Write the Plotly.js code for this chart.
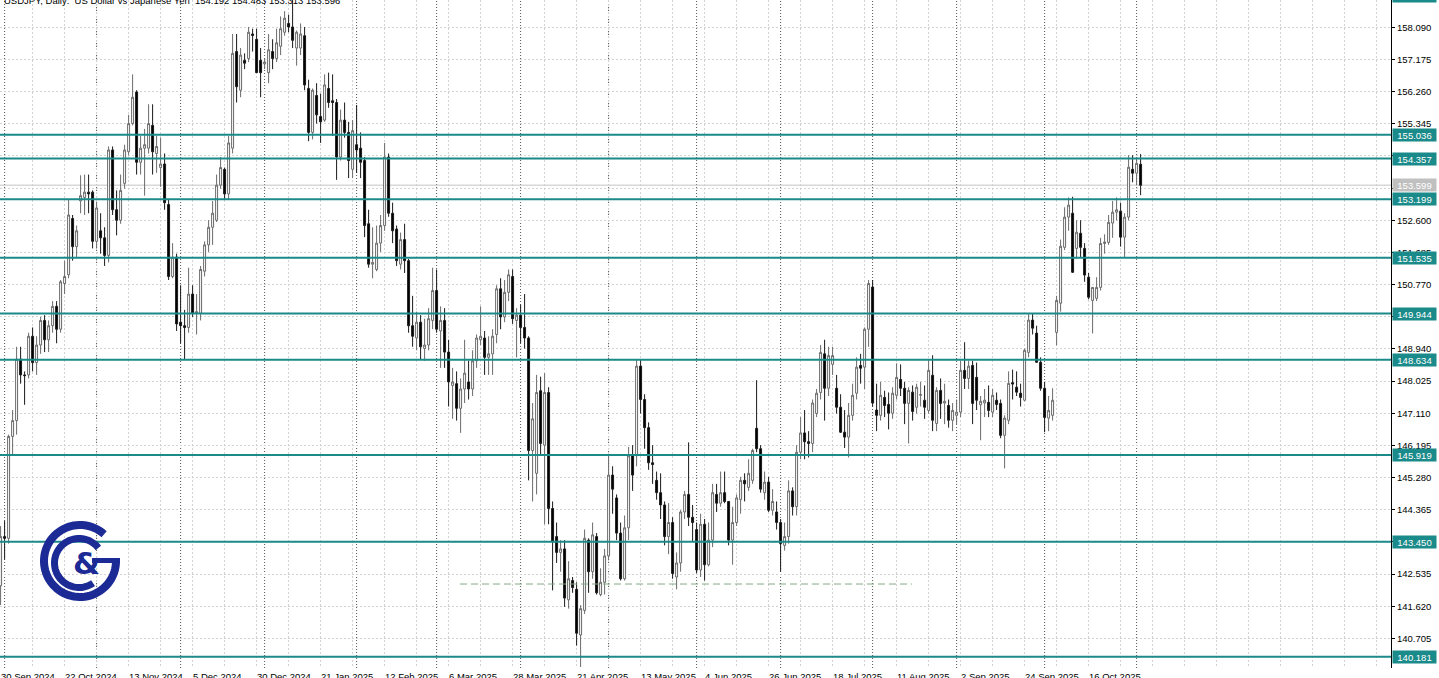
<!DOCTYPE html>
<html><head><meta charset="utf-8">
<script src="https://cdn.plot.ly/plotly-3.0.1.min.js"></script>
<style>html,body{margin:0;padding:0;background:#fff;overflow:hidden}#chart{width:1439px;height:678px}</style>
</head><body><div id="chart"></div>
<script>
// ---- DATA (USDJPY daily) ----
const open=[
142.20,143.60,143.55,146.45,146.90,148.65,148.20,148.20,149.30,148.55,
149.05,149.75,149.20,149.60,150.15,149.50,150.80,151.05,152.65,151.85,
153.15,153.25,153.40,153.40,152.00,152.30,152.10,151.60,154.60,152.90,
152.60,153.65,154.55,155.35,156.25,154.25,154.65,154.65,155.30,154.50,
154.10,154.20,153.05,151.00,151.55,149.70,149.60,149.55,150.50,149.95,
149.95,151.15,151.90,152.40,152.60,153.60,154.05,153.35,154.65,157.40,
156.30,157.15,157.20,157.90,157.75,157.15,157.05,156.80,157.40,157.20,
157.55,157.95,158.20,158.10,157.50,157.50,157.85,156.35,155.10,156.15,
155.55,155.45,156.35,156.00,155.95,154.40,155.45,155.10,154.05,154.75,
154.65,154.30,152.50,151.35,151.20,151.95,152.45,154.40,152.80,152.35,
151.35,152.05,151.45,149.60,149.25,149.70,148.95,149.05,149.75,150.60,
149.45,149.75,148.85,147.90,147.95,147.25,147.80,148.00,147.80,148.60,
149.20,149.25,148.70,148.80,149.35,150.65,149.85,150.55,151.00,149.75,
149.90,149.55,149.25,146.05,145.40,147.75,146.20,147.70,144.40,143.60,
143.15,143.25,141.80,142.35,142.10,140.80,141.50,143.50,142.60,143.60,
141.95,142.30,143.05,145.35,144.70,143.70,142.40,143.85,145.90,145.90,
148.45,147.50,146.70,145.70,145.20,144.85,144.50,143.60,144.00,142.45,
142.85,144.30,144.80,144.15,143.80,142.65,143.95,142.80,143.50,144.80,
144.55,144.85,144.60,143.50,144.00,144.65,145.20,145.00,145.20,146.68,
146.10,144.85,145.15,144.35,144.30,144.00,143.35,143.60,144.90,144.45,
146.00,146.55,146.30,146.25,147.10,147.70,148.80,147.82,148.50,147.82,
147.28,146.57,146.43,147.05,147.68,148.47,148.42,149.50,150.70,147.20,
147.05,147.56,147.36,147.11,147.62,148.07,147.82,147.39,147.71,147.28,
147.62,147.48,147.19,148.19,146.82,147.76,147.40,147.33,146.91,147.05,
147.14,148.33,148.10,148.47,148.13,147.35,147.40,147.42,147.14,147.48,
147.39,146.48,146.91,147.98,147.85,147.68,147.48,148.84,149.76,149.39,
148.56,147.82,146.97,147.05,149.41,150.24,151.83,152.69,152.80,151.80,
152.23,151.80,150.98,150.32,150.38,150.69,151.94,151.97,152.52,152.83,
152.86,152.12,152.69,154.05,153.94,154.192];
const high=[
143.90,144.05,146.50,147.20,149.00,149.00,148.30,149.40,149.55,149.30,
149.85,149.90,149.75,150.30,150.30,150.90,151.45,153.20,152.75,152.45,
153.88,153.90,153.90,153.45,153.10,152.80,152.40,154.70,154.70,153.45,
153.90,154.75,155.60,156.75,156.30,155.00,155.20,155.90,155.90,155.00,
154.95,154.50,153.20,151.95,151.65,150.75,150.05,151.25,150.75,150.50,
151.30,152.00,152.60,153.15,153.90,154.40,154.10,155.00,157.90,157.90,
157.50,157.35,158.10,158.05,158.05,157.50,157.20,157.90,157.75,158.05,
158.40,158.55,158.45,158.87,158.00,158.20,158.10,156.60,156.35,156.50,
156.20,156.75,156.80,156.75,156.05,155.75,155.95,155.40,155.45,155.88,
155.10,154.40,152.90,152.40,152.45,152.75,154.80,154.50,153.10,152.45,
152.25,152.50,151.50,150.45,150.00,149.90,149.80,150.10,151.25,151.20,
150.15,150.10,149.20,148.40,148.30,148.10,149.20,148.60,148.90,149.35,
150.15,149.45,149.30,149.50,150.75,150.95,150.90,151.20,151.20,150.10,
150.20,150.50,149.30,147.40,148.20,148.15,148.25,147.85,144.60,144.00,
143.50,143.50,142.90,142.45,142.30,141.65,143.80,143.55,144.00,143.70,
142.70,143.25,145.90,145.60,144.80,144.00,144.20,146.15,146.20,148.65,
148.65,147.65,146.85,146.20,145.45,145.40,144.60,144.55,144.15,143.15,
144.35,144.90,146.28,144.50,144.00,144.25,144.10,144.00,145.10,145.10,
145.45,145.45,144.60,144.45,144.80,145.30,145.40,145.80,146.10,148.05,
146.20,145.45,145.30,144.95,144.60,144.10,144.00,145.20,145.00,146.20,
147.00,147.20,146.60,147.50,147.80,149.05,149.20,149.00,149.00,148.20,
147.65,147.20,147.40,147.95,148.70,148.80,149.55,150.90,150.90,147.95,
148.00,147.75,147.70,147.85,148.53,148.50,148.00,147.85,147.90,147.95,
148.00,147.90,148.62,148.76,147.85,148.10,147.95,147.50,147.40,147.50,
148.60,149.13,148.60,148.60,148.55,147.60,147.80,147.90,147.80,147.70,
147.50,147.05,148.30,148.35,148.30,147.95,148.95,149.95,149.95,149.60,
148.70,148.00,147.60,147.82,150.45,152.05,152.97,153.25,153.27,152.60,
152.60,151.95,151.10,150.70,150.98,152.10,152.20,152.75,153.15,153.25,
153.10,152.80,154.45,154.45,154.40,154.483];
const low=[
141.65,142.95,143.40,145.90,146.50,147.95,147.35,148.10,148.30,148.20,
148.80,148.85,148.85,149.40,149.10,149.40,150.50,150.95,151.45,151.55,
152.80,152.75,152.80,151.80,151.80,151.65,151.30,151.40,152.75,152.17,
152.50,153.50,154.45,155.30,153.90,153.90,153.30,154.50,153.90,153.95,
153.55,152.90,150.90,150.95,149.45,149.10,148.65,149.40,149.85,149.35,
149.75,151.00,151.70,151.90,152.55,153.50,153.20,153.20,154.50,155.95,
156.10,156.90,157.10,157.40,156.80,156.10,156.90,156.50,156.90,157.10,
157.30,157.85,157.95,157.50,157.00,157.30,156.30,154.85,154.90,155.35,
154.80,155.40,155.80,155.00,153.75,154.30,154.95,153.80,153.80,153.95,
153.80,152.12,151.25,150.95,151.15,151.70,152.30,152.70,151.95,151.30,
151.20,151.10,149.40,149.00,148.90,148.65,148.60,148.90,149.50,149.40,
148.40,148.40,147.30,146.95,146.90,146.55,147.40,147.50,147.60,148.40,
149.05,148.20,148.20,148.20,149.10,149.50,149.70,150.30,149.65,148.70,
149.10,148.95,145.20,144.60,144.80,145.90,143.95,143.95,142.07,142.85,
142.60,141.60,141.55,142.00,140.50,139.89,141.40,142.00,142.40,141.95,
141.90,141.95,142.95,144.25,143.50,142.35,142.35,143.50,144.90,145.60,
147.10,146.10,145.50,145.10,144.65,144.10,143.35,143.10,142.40,142.10,
142.60,144.10,143.90,143.45,142.55,142.45,142.35,142.75,143.30,144.30,
144.45,144.55,143.35,142.80,143.90,144.25,144.60,144.90,145.10,146.00,
144.85,144.65,144.30,144.20,143.80,142.60,143.20,143.40,144.20,144.20,
145.80,145.80,145.85,146.00,147.00,147.50,146.90,147.60,148.20,147.10,
146.55,146.12,145.85,146.90,147.50,147.95,147.80,149.00,147.30,146.60,
146.90,147.00,146.65,146.95,147.50,147.60,146.80,146.25,146.90,147.10,
147.30,146.95,147.10,146.60,146.60,146.95,146.80,146.70,146.60,146.80,
147.00,147.80,147.80,146.80,147.20,146.34,147.00,147.00,147.00,147.20,
146.40,145.54,146.80,147.50,147.60,147.30,147.45,148.70,149.35,148.55,
147.75,146.57,146.60,146.90,149.04,150.00,151.75,152.30,151.10,151.50,
151.55,150.85,150.35,149.38,150.30,150.60,151.65,151.90,152.10,152.60,
151.85,151.55,152.60,153.68,153.60,153.313];
const close=[
143.60,143.55,146.45,146.90,148.65,148.20,148.18,149.30,148.55,149.05,
149.75,149.20,149.60,150.15,149.50,150.85,151.00,152.75,151.85,152.30,
153.30,153.40,153.35,152.00,152.95,152.10,151.60,154.60,152.90,152.60,
153.45,154.60,155.35,156.10,154.25,154.65,154.75,155.35,154.55,154.70,
154.20,153.10,151.00,151.55,149.65,149.60,149.55,150.50,149.95,150.00,
151.20,151.90,152.40,152.80,153.60,154.10,153.35,154.80,157.35,156.40,
157.30,157.07,157.95,157.86,156.80,156.80,157.10,157.45,157.20,157.65,
158.05,158.35,158.10,157.72,157.95,157.90,156.45,155.10,156.30,155.60,
155.40,156.45,155.95,155.95,154.40,155.45,155.10,154.30,155.15,154.60,
154.25,152.45,151.35,151.40,151.95,152.45,154.40,152.80,152.30,151.45,
152.05,151.45,149.60,149.30,149.70,149.00,149.05,149.80,150.60,149.50,
149.75,148.85,148.00,148.00,147.25,147.80,148.25,147.80,148.60,149.25,
149.30,148.70,148.80,149.30,150.65,149.85,150.55,151.05,149.80,149.90,
149.55,149.25,146.05,146.95,147.70,146.25,147.70,144.40,143.45,143.15,
143.25,141.85,142.40,142.15,140.85,141.55,143.55,142.60,143.65,142.00,
142.30,143.05,145.35,144.95,143.70,142.40,143.85,145.90,145.35,148.45,
147.50,146.70,145.70,145.65,144.85,144.50,143.60,144.00,142.55,142.85,
144.30,144.80,144.15,144.00,142.65,143.95,142.80,143.50,144.85,144.55,
144.85,144.60,143.50,144.00,144.70,145.20,145.10,145.40,146.05,146.10,
144.95,145.15,144.35,144.60,144.00,143.40,143.60,144.90,144.45,146.00,
146.55,146.30,146.25,147.40,147.68,148.84,147.82,148.75,148.75,147.28,
146.57,146.43,147.05,147.62,148.42,148.39,149.50,150.80,147.40,147.05,
147.62,147.33,147.11,147.68,148.13,147.82,147.39,147.76,147.16,147.85,
147.64,147.28,148.33,146.91,147.76,147.39,147.45,146.91,147.19,147.14,
148.33,148.10,148.45,147.39,147.48,147.45,147.48,147.19,147.62,147.36,
146.48,146.97,147.96,147.94,147.71,147.56,148.90,149.76,149.53,148.56,
147.82,146.99,147.19,147.48,150.32,151.86,152.69,153.03,151.12,152.26,
151.83,151.04,150.41,150.69,150.69,151.94,151.98,152.54,152.83,152.90,
152.12,152.69,154.11,153.94,154.22,153.596];

const levels=[155.036,154.357,153.199,151.535,149.944,148.634,145.919,143.450,140.181];
const bidPrice=153.599;
const supportPrice=142.25;
const yTicks=[158.090,157.175,156.260,155.345,154.430,153.515,152.600,151.685,150.770,149.855,148.940,148.025,147.110,146.195,145.280,144.365,143.450,142.535,141.620,140.705];
const tickDates=['2024-09-30','2024-10-22','2024-11-13','2024-12-05','2024-12-30','2025-01-21','2025-02-12','2025-03-06','2025-03-28','2025-04-21','2025-05-13','2025-06-04','2025-06-26','2025-07-18','2025-08-11','2025-09-02','2025-09-24','2025-10-16'];
const holidays=['2024-12-25'];
const firstDate='2024-09-30';
const header='USDJPY, Daily:  US Dollar vs Japanese Yen  154.192 154.483 153.313 153.596';

// ---- build ----
const N=Math.min(open.length,high.length,low.length,close.length);
function tradingDays(start,n){const out=[];const d=new Date(start+'T00:00:00Z');
  while(out.length<n){const wd=d.getUTCDay();const s=d.toISOString().slice(0,10);
    if(wd!==0&&wd!==6&&!holidays.includes(s))out.push(s);d.setUTCDate(d.getUTCDate()+1);}return out;}
const dates=tradingDays(firstDate,N);
const xs=dates.map((_,i)=>i);
const MON=['Jan','Feb','Mar','Apr','May','Jun','Jul','Aug','Sep','Oct','Nov','Dec'];
function fmt(s){const p=s.split('-');return (+p[2])+' '+MON[+p[1]-1]+' '+p[0];}

const W=1439,H=678,ML=0,MR=48,MT=0,MB=10;
const PW=W-ML-MR, PH=H-MT-MB;
const TEAL='#1b8a8a', BLUE='#1b2a94';
const FONT='Liberation Sans, Arial, sans-serif';
const FS=9.5;

const trace={type:'candlestick',x:xs,open:open.slice(0,N),high:high.slice(0,N),low:low.slice(0,N),close:close.slice(0,N),
  increasing:{line:{color:'#6a6a6a',width:1},fillcolor:'#ffffff'},
  decreasing:{line:{color:'#1a1a1a',width:1},fillcolor:'#000000'},
  whiskerwidth:0,hoverinfo:'skip',showlegend:false};

const shapes=[];
for(let i=1;i<N;i++){ if(dates[i].slice(5,7)!==dates[i-1].slice(5,7)){
  shapes.push({type:'line',xref:'x',yref:'paper',x0:i,x1:i,y0:0,y1:1,layer:'below',line:{color:'#555',width:1,dash:'1px,2px'}});}}
shapes.push({type:'line',xref:'paper',yref:'y',x0:0,x1:1,y0:bidPrice,y1:bidPrice,layer:'below',line:{color:'#c4c4c4',width:1}});
shapes.push({type:'line',xref:'x',yref:'y',x0:114.85,x1:227.85,y0:supportPrice,y1:supportPrice,line:{color:'#86a886',width:1,dash:'7px,4px'}});
levels.forEach(v=>shapes.push({type:'line',xref:'paper',yref:'y',x0:0,x1:1,y0:v,y1:v,line:{color:TEAL,width:2}}));
function P(px,py){return (px/PW).toFixed(5)+','+(1-py/PH).toFixed(5);}
function arc(cx,cy,r,a0,a1){let s='';const n=72;for(let k=0;k<=n;k++){const t=(a0+(a1-a0)*k/n)*Math.PI/180;
  s+=(k?'L':'M')+P(cx+r*Math.cos(t),cy-r*Math.sin(t));}return s;}
shapes.push({type:'path',xref:'paper',yref:'paper',path:arc(80,561,36,48,360),line:{color:BLUE,width:8},fillcolor:'rgba(0,0,0,0)'});
shapes.push({type:'path',xref:'paper',yref:'paper',path:'M'+P(92,560.5)+'L'+P(120,560.5),line:{color:BLUE,width:5}});
shapes.push({type:'path',xref:'paper',yref:'paper',path:arc(79,563,24.5,38,305),line:{color:BLUE,width:7},fillcolor:'rgba(0,0,0,0)'});

const annotations=[];
const af={family:FONT,size:FS,color:'#000'};
tickDates.forEach(d=>{const i=dates.indexOf(d);if(i>=0)annotations.push({xref:'x',yref:'paper',x:i,y:0,xanchor:'left',yanchor:'top',xshift:-2,yshift:-1,
  text:fmt(d),showarrow:false,font:af});});
annotations.push({xref:'paper',yref:'paper',x:0,y:1,xanchor:'left',yanchor:'top',xshift:2,yshift:7,text:header,showarrow:false,font:af});
levels.forEach(v=>annotations.push({xref:'paper',yref:'y',x:1,y:v,xanchor:'left',yanchor:'middle',xshift:1,text:v.toFixed(3),showarrow:false,
  bgcolor:TEAL,width:43,height:12,borderpad:0,font:{family:FONT,size:FS,color:'#ffffff'}}));
annotations.push({xref:'paper',yref:'y',x:1,y:bidPrice,xanchor:'left',yanchor:'middle',xshift:1,text:bidPrice.toFixed(3),showarrow:false,
  bgcolor:'#c0c0c0',width:43,height:12,borderpad:0,font:{family:FONT,size:FS,color:'#ffffff'}});
annotations.push({xref:'paper',yref:'paper',x:1,y:1,xanchor:'left',yanchor:'middle',xshift:1,yshift:4,text:'158.987',showarrow:false,
  bgcolor:TEAL,width:43,height:12,borderpad:0,font:{family:FONT,size:FS,color:'#ffffff'}});
annotations.push({xref:'paper',yref:'paper',x:86/PW,y:1-563/PH,xanchor:'center',yanchor:'middle',text:'&',showarrow:false,
  font:{family:'DejaVu Sans, sans-serif',size:31,color:BLUE,weight:'bold'}});

const layout={width:W,height:H,margin:{l:ML,r:MR,t:MT,b:MB,pad:0},paper_bgcolor:'#fff',plot_bgcolor:'#fff',
  hovermode:false,dragmode:false,showlegend:false,
  xaxis:{range:[-0.15,(PW-0.6)/4],tick0:0,dtick:8,showticklabels:false,ticks:'',showgrid:true,gridcolor:'#d2d2d2',griddash:'2px,2px',
    zeroline:false,showline:false,rangeslider:{visible:false},fixedrange:true},
  yaxis:{side:'right',range:[139.861,158.867],tickmode:'array',tickvals:yTicks,ticktext:yTicks.map(v=>v.toFixed(3)),
    ticks:'outside',ticklen:3,tickcolor:'#000',tickwidth:1,showline:true,linecolor:'#000',linewidth:1,mirror:false,
    showgrid:true,gridcolor:'#d2d2d2',griddash:'2px,2px',zeroline:false,tickfont:af,fixedrange:true},
  shapes:shapes,annotations:annotations};

Plotly.newPlot('chart',[trace],layout,{staticPlot:true,displayModeBar:false});
</script></body></html>
